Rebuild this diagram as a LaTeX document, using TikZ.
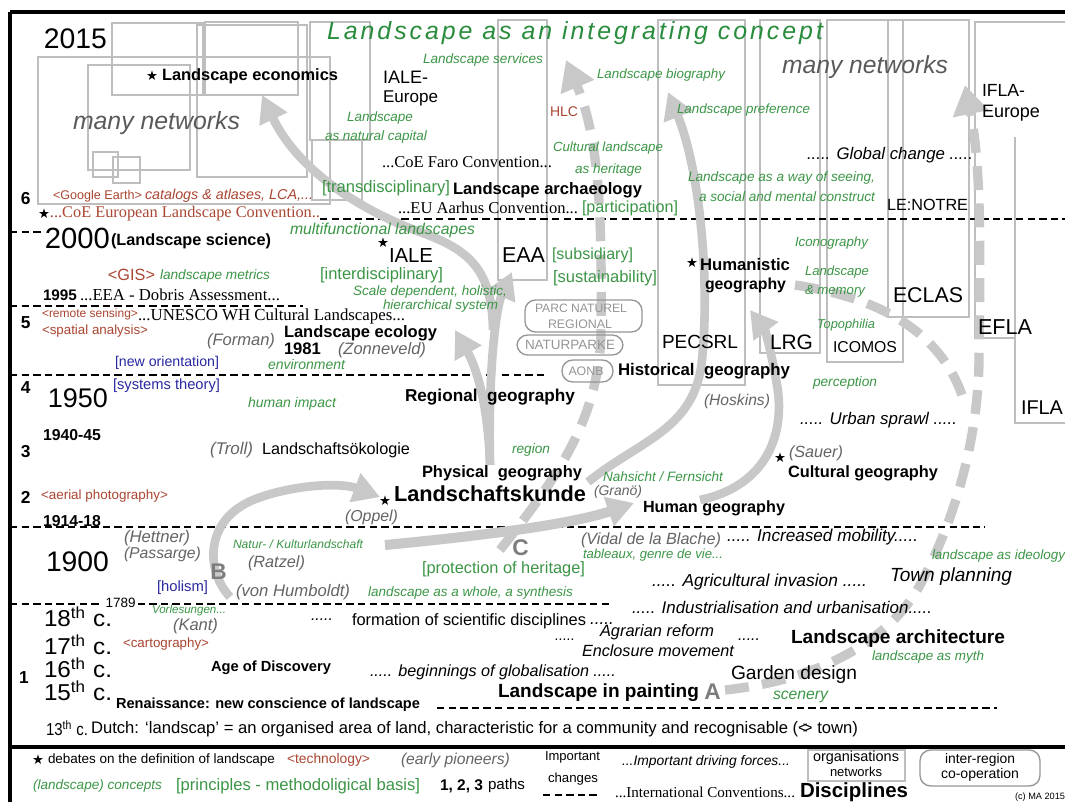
\documentclass[tikz,border=0pt]{standalone}
\usepackage{fontspec}
\usepackage{graphicx}
\setmainfont{Liberation Sans}
\newfontfamily\tnr{Liberation Serif}
\newfontfamily\djv{DejaVu Sans}
\newfontfamily\spaced[LetterSpace=12]{Liberation Sans}
\usetikzlibrary{arrows.meta}
\definecolor{cgreen}{RGB}{60,150,70}
\definecolor{tgreen}{RGB}{40,140,60}
\definecolor{cred}{RGB}{170,70,50}
\definecolor{cblue}{RGB}{40,40,160}
\definecolor{cgray}{RGB}{100,100,100}
\definecolor{netgray}{RGB}{90,90,90}
\definecolor{boxgray}{RGB}{190,190,190}
\definecolor{rboxgray}{RGB}{150,150,150}
\definecolor{arrgray}{RGB}{200,200,200}
\definecolor{letgray}{RGB}{125,125,125}
\newlength\pxu \setlength\pxu{0.75pt}
\newcommand\fw[2]{\resizebox{#1\pxu}{!}{#2}}
\newcommand\fwh[3]{\resizebox{#1\pxu}{#2\pxu}{#3}}
\newcommand\mylbl[5]{\node[#1] (#2) at (#3) {\fw{#4}{#5}};}
\tikzset{
 txt/.style={inner sep=0pt, outer sep=0pt, anchor=west, font=\fontsize{10}{12}\selectfont},
 txr/.style={txt},
 txb/.style={txt, font=\fontsize{10}{12}\selectfont\bfseries},
 txnum/.style={txt, font=\fontsize{13}{13}\selectfont\bfseries},
 txgi/.style={txt, text=cgreen, font=\fontsize{10}{12}\selectfont\itshape},
 txg/.style={txt, text=cgreen},
 txrd/.style={txt, text=cred},
 txrdi/.style={txt, text=cred, font=\fontsize{10}{12}\selectfont\itshape},
 txbl/.style={txt, text=cblue},
 txgp/.style={txt, text=cgray, font=\fontsize{10}{12}\selectfont\itshape},
 txnet/.style={txt, text=netgray, font=\fontsize{10}{12}\selectfont\itshape},
 txki/.style={txt, font=\fontsize{10}{12}\selectfont\itshape},
 txsf/.style={txt, font=\fontsize{10}{12}\selectfont\tnr},
 txrsf/.style={txsf, text=cred},
 txrb/.style={txt, text=rboxgray, anchor=center},
 txstar/.style={inner sep=0pt, font=\fontsize{10}{10}\selectfont\djv},
 txlet/.style={inner sep=0pt, anchor=west, text=letgray, font=\fontsize{17}{17}\selectfont\bfseries},
 orgbox/.style={draw=boxgray, line width=1.1pt},
 rbox/.style={draw=rboxgray, line width=1pt, rounded corners=8pt},
 dline/.style={line width=1.9pt, dash pattern=on 5.5pt off 3.2pt},
 frameline/.style={line width=2.4pt},
 garrow/.style={draw=arrgray, line width=6.5pt, -{Triangle[width=22pt,length=20pt]}},
 gdash/.style={draw=arrgray, line width=7pt, dash pattern=on 18pt off 10pt, -{Triangle[width=26pt,length=22pt]}},
 gdashnh/.style={draw=arrgray, line width=7pt, dash pattern=on 18pt off 10pt},
}
\begin{document}
\begin{tikzpicture}[x=0.75pt,y=-0.75pt]
\useasboundingbox (0,0) rectangle (1065,802);
\fill[white] (0,0) rectangle (1065,802);
% ---------- organisation / network boxes
\draw[orgbox] (38,57) rectangle (330,204);
\draw[orgbox] (88,65) rectangle (190,170);
\draw[orgbox] (112,23) rectangle (203,95);
\draw[orgbox] (197,25) rectangle (307,177);
\draw[orgbox] (205,22) rectangle (298,95);
\draw[orgbox] (93,152) rectangle (118,177);
\draw[orgbox] (113,157) rectangle (140,183);
\draw[orgbox] (310,22) rectangle (370,140);
\draw[orgbox] (312,140) rectangle (362,200);
\draw[orgbox] (498,20) rectangle (547,280);
\draw[orgbox] (658,20) rectangle (745,385);
\draw[orgbox] (760,20) rectangle (820,353);
\draw[orgbox] (827,20) rectangle (903,362);
\draw[orgbox] (888,20) rectangle (969,317);
\draw[orgbox] (1065,22) -- (975,22) -- (975,338) -- (1015,338);
\draw[orgbox] (1015,137) -- (1015,423) -- (1065,423);
% ---------- frame
\draw[frameline] (10,12) -- (1065,12);
\draw[frameline] (10,12) -- (10,802);
\draw[frameline] (10,747) -- (1065,747);
% ---------- period lines
\draw[dline] (10,232) -- (42,232);
\draw[dline] (320,219) -- (1065,219);
\draw[dline] (10,306) -- (303,306);
\draw[dline] (10,375) -- (492,375);
\draw[dline] (502,375) -- (545,375);
\draw[dline] (10,527) -- (985,527);
\draw[dline] (10,604) -- (610,604);
\draw[dline] (437,708) -- (997,708);
% ---------- paths (arrows)
\coordinate (bS) at (230,597);
\coordinate (bE) at (380,497);
\draw[garrow] (bS) .. controls (205,570) and (205,520) .. (253,500) .. controls (290,485) and (340,482) .. (bE);
\coordinate (nkS) at (385,545);
\coordinate (nkE) at (634,503);
\draw[garrow, line width=7.5pt] (nkS) .. controls (470,537) and (570,525) .. (nkE);
\coordinate (pgS) at (490,465);
\coordinate (eaaE) at (512,272);
\coordinate (lecE) at (455,330);
\coordinate (lecoE) at (262,95);
\draw[garrow] (pgS) .. controls (488,380) and (495,310) .. (eaaE);
\draw[garrow] (pgS) .. controls (488,400) and (475,365) .. (lecE);
\draw[garrow] (493,330) .. controls (492,270) and (470,250) .. (420,232) .. controls (370,214) and (300,175) .. (lecoE);
\coordinate (nhS) at (588,482);
\coordinate (bioE) at (668,92);
\draw[garrow] (nhS) .. controls (640,440) and (695,430) .. (702,360) .. controls (710,280) and (700,170) .. (bioE);
\coordinate (hgS) at (700,500);
\coordinate (lrgE) at (750,310);
\draw[garrow] (hgS) .. controls (770,485) and (785,430) .. (777,385) .. controls (772,355) and (765,330) .. (lrgE);
\coordinate (cS) at (500,550);
\coordinate (cE) at (566,60);
\draw[gdash] (cS) .. controls (555,480) and (600,420) .. (601,330) .. controls (602,220) and (600,140) .. (cE);
\coordinate (aS) at (725,690);
\coordinate (aE) at (965,85);
\draw[gdash] (aS) .. controls (820,680) and (890,640) .. (920,585) .. controls (955,520) and (978,440) .. (979,360) .. controls (980,260) and (982,170) .. (aE);
\draw[gdashnh] (795,285) .. controls (860,295) and (935,320) .. (962,395);
% ---------- rounded boxes
\draw[rbox] (525,300) rectangle (642,332);
\draw[rbox] (517,335) rectangle (623,355);
\draw[rbox] (562,360) rectangle (613,382);
\node[txrb] (parc1) at (581,308) {\fw{92}{PARC NATUREL}};
\node[txrb] (parc2) at (580,324) {\fw{64}{REGIONAL}};
\node[txrb] (natp) at (570,345) {\fw{90}{NATURPARKE}};
\node[txrb] (aonb) at (586,371) {\fw{35}{AONB}};
% ---------- texts: top
\mylbl{txr}{y2015}{44,39}{63}{2015}
\node[txt, text=tgreen] (title) at (327,33) {\fw{496}{\spaced\itshape Landscape as an integrating concept}};
\node[txstar] (s1) at (152,76) {★};
\mylbl{txb}{lecon}{162,76}{176}{Landscape economics}
\mylbl{txnet}{net1}{73,123}{167}{many networks}
\mylbl{txnet}{net2}{782,67}{166}{many networks}
\mylbl{txr}{ialeeu1}{383,77}{45}{IALE-}
\mylbl{txr}{ialeeu2}{383,98}{55}{Europe}
\mylbl{txgi}{lserv}{423,60}{120}{Landscape services}
\mylbl{txrd}{hlc}{550,112}{28}{HLC}
\mylbl{txgi}{lbio}{597,75}{128}{Landscape biography}
\mylbl{txgi}{lpref}{677,110}{133}{Landscape preference}
\mylbl{txgi}{lnat1}{347,118}{66}{Landscape}
\mylbl{txgi}{lnat2}{325,137}{102}{as natural capital}
\mylbl{txgi}{cher1}{553,148}{110}{Cultural landscape}
\mylbl{txgi}{cher2}{575,170}{67}{as heritage}
\mylbl{txsf}{faro}{382,162}{170}{...CoE Faro Convention...}
\mylbl{txg}{transd}{322,188}{128}{[transdisciplinary]}
\mylbl{txb}{larch}{453,190}{189}{Landscape archaeology}
\mylbl{txki}{glob}{807,155}{166}{..... Global change .....}
\mylbl{txgi}{way1}{688,178}{187}{Landscape as a way of seeing,}
\mylbl{txgi}{way2}{699,197}{176}{a social and mental construct}
\mylbl{txr}{lenotre}{887,205}{81}{LE:NOTRE}
\mylbl{txr}{ifeu1}{982,90}{43}{IFLA-}
\mylbl{txr}{ifeu2}{982,113}{58}{Europe}
\node[txnum] (p6) at (21,199) {6};
\mylbl{txrd}{gearth}{53,196}{89}{<Google Earth>}
\mylbl{txrdi}{catal}{145,196}{168}{catalogs \& atlases, LCA,...}
\node[txstar] (s2) at (44,214) {★};
\mylbl{txrsf}{elc}{50,214}{270}{...CoE European Landscape Convention..}
\mylbl{txsf}{aarhus}{398,208}{180}{...EU Aarhus Convention...}
\mylbl{txg}{partic}{582,208}{96}{[participation]}
% ---------- 2000 - 1950
\mylbl{txr}{y2000}{45,238}{65}{2000}
\mylbl{txb}{lsci}{111,241}{160}{(Landscape science)}
\mylbl{txgi}{multi}{290,230}{185}{multifunctional landscapes}
\node[txstar] (s3) at (383,243) {★};
\mylbl{txr}{iale}{389,256}{44}{IALE}
\mylbl{txr}{eaa}{502,255}{43}{EAA}
\mylbl{txg}{subs}{552,255}{81}{[subsidiary]}
\mylbl{txg}{sust}{553,278}{104}{[sustainability]}
\node[txstar] (s4) at (692,263) {★};
\mylbl{txb}{hum1}{700,265}{90}{Humanistic}
\mylbl{txb}{hum2}{705,285}{81}{geography}
\mylbl{txgi}{icon}{795,243}{73}{Iconography}
\mylbl{txgi}{mem1}{805,272}{64}{Landscape}
\mylbl{txgi}{mem2}{805,291}{60}{\& memory}
\mylbl{txr}{eclas}{893,295}{70}{ECLAS}
\mylbl{txrd}{gis}{108,275}{47}{<GIS>}
\mylbl{txgi}{lmet}{160,276}{110}{landscape metrics}
\mylbl{txg}{interd}{320,275}{123}{[interdisciplinary]}
\mylbl{txb}{y1995}{43,295}{34}{1995}
\mylbl{txsf}{dobris}{80,295}{200}{...EEA - Dobris Assessment...}
\mylbl{txgi}{scale1}{353,292}{154}{Scale dependent, holistic,}
\mylbl{txgi}{scale2}{383,306}{115}{hierarchical system}
\node[txnum] (p5) at (21,323) {5};
\mylbl{txrd}{rsens}{42,314}{96}{<remote sensing>}
\mylbl{txsf}{unesco}{138,316}{267}{...UNESCO WH Cultural Landscapes...}
\mylbl{txrd}{spat}{42,331}{106}{<spatial analysis>}
\mylbl{txgp}{forman}{207,341}{68}{(Forman)}
\mylbl{txb}{leco}{284,333}{153}{Landscape ecology}
\mylbl{txb}{y1981}{284,349}{37}{1981}
\mylbl{txgp}{zonn}{338,350}{88}{(Zonneveld)}
\mylbl{txbl}{neworient}{115,363}{104}{[new orientation]}
\mylbl{txgi}{envir}{268,364}{77}{environment}
\mylbl{txr}{pecsrl}{662,342}{76}{PECSRL}
\mylbl{txr}{lrg}{770,342}{43}{LRG}
\mylbl{txr}{icomos}{833,347}{64}{ICOMOS}
\mylbl{txgi}{topo}{817,325}{58}{Topophilia}
\mylbl{txr}{efla}{978,327}{54}{EFLA}
\mylbl{txb}{histg}{618,371}{172}{Historical\ \ geography}
\mylbl{txgi}{perc}{813,383}{64}{perception}
\node[txnum] (p4) at (21,388) {4};
\mylbl{txr}{y1950}{48,398}{60}{1950}
\mylbl{txbl}{systh}{113,386}{107}{[systems theory]}
\mylbl{txgi}{himp}{248,404}{88}{human impact}
\mylbl{txb}{regg}{405,397}{170}{Regional\ \ geography}
\mylbl{txgp}{hosk}{704,401}{66}{(Hoskins)}
\mylbl{txki}{urban}{800,420}{157}{..... Urban sprawl .....}
\mylbl{txr}{ifla}{1021,408}{42}{IFLA}
% ---------- 1940 - 1900
\mylbl{txb}{y1940}{43,435}{58}{1940-45}
\node[txnum] (p3) at (21,452) {3};
\mylbl{txgp}{troll}{210,450}{43}{(Troll)}
\mylbl{txr}{loek}{262,450}{148}{Landschaftsökologie}
\mylbl{txgi}{region}{512,450}{38}{region}
\node[txstar] (s5) at (780,458) {★};
\mylbl{txgp}{sauer}{789,453}{54}{(Sauer)}
\mylbl{txb}{cultg}{788,473}{150}{Cultural geography}
\mylbl{txb}{physg}{422,473}{160}{Physical\ \ geography}
\mylbl{txgi}{nahs}{603,477}{120}{Nahsicht / Fernsicht}
\node[txnum] (p2) at (21,497) {2};
\mylbl{txrd}{aerial}{41,496}{127}{<aerial photography>}
\node[txstar] (s6) at (385,501) {★};
\mylbl{txb}{lkunde}{394,494}{192}{Landschaftskunde}
\mylbl{txgp}{grano}{594,492}{48}{(Granö)}
\mylbl{txb}{humg}{643,508}{142}{Human geography}
\mylbl{txgp}{oppel}{345,517}{53}{(Oppel)}
\mylbl{txb}{y1914}{43,521}{58}{1914-18}
\mylbl{txgp}{hettner}{124,538}{66}{(Hettner)}
\mylbl{txgp}{passarge}{124,554}{77}{(Passarge)}
\mylbl{txgi}{natkul}{233,544}{130}{Natur- / Kulturlandschaft}
\node[txlet] (lC) at (512,548) {C};
\mylbl{txgp}{vidal}{581,540}{140}{(Vidal de la Blache)}
\mylbl{txgi}{tabl}{583,555}{140}{tableaux, genre de vie...}
\mylbl{txki}{mobil}{727,537}{191}{..... Increased mobility.....}
\mylbl{txgi}{ideol}{932,556}{133}{landscape as ideology}
\mylbl{txr}{y1900}{46,562}{63}{1900}
\node[txlet] (lB) at (210,572) {B};
\mylbl{txgp}{ratzel}{248,563}{57}{(Ratzel)}
\mylbl{txg}{protect}{422,569}{163}{[protection of heritage]}
\mylbl{txki}{agri}{652,582}{215}{..... Agricultural invasion .....}
\mylbl{txki}{town}{890,577}{122}{Town planning}
\mylbl{txbl}{holism}{157,588}{51}{[holism]}
\mylbl{txgp}{humb}{236,592}{114}{(von Humboldt)}
\mylbl{txgi}{whole}{368,593}{205}{landscape as a whole, a synthesis}
\node[txt, fill=white, inner xsep=2pt] (y1789) at (103,603) {\fw{30}{1789}};
\mylbl{txki}{indus}{632,607}{300}{..... Industrialisation and urbanisation.....}
% ---------- centuries
\mylbl{txgi}{vorl}{152,611}{74}{Vorlesungen...}
\mylbl{txgp}{kant}{173,626}{45}{(Kant)}
\node[txt] (c18) at (44,617) {\fwh{68}{20}{18\textsuperscript{th} c.}};
\node[txt] (c17) at (44,645) {\fwh{68}{20}{17\textsuperscript{th} c.}};
\node[txt] (c16) at (44,668) {\fwh{68}{20}{16\textsuperscript{th} c.}};
\node[txt] (c15) at (44,691) {\fwh{68}{20}{15\textsuperscript{th} c.}};
\mylbl{txki}{dots1}{311,620}{22}{.....}
\mylbl{txr}{formsci}{352,621}{234}{formation of scientific disciplines}
\mylbl{txki}{dots2}{590,624}{24}{.....}
\mylbl{txrd}{carto}{123,644}{86}{<cartography>}
\mylbl{txki}{dots3}{555,640}{20}{.....}
\mylbl{txki}{agrar}{600,632}{114}{Agrarian reform}
\mylbl{txki}{dots4}{738,640}{22}{.....}
\mylbl{txki}{enclos}{582,651}{152}{Enclosure movement}
\mylbl{txb}{larchit}{791,639}{214}{Landscape architecture}
\mylbl{txgi}{myth}{872,657}{112}{landscape as myth}
\node[txnum] (p1) at (19,678) {1};
\mylbl{txb}{aged}{211,668}{120}{Age of Discovery}
\mylbl{txki}{globz}{370,672}{246}{..... beginnings of globalisation .....}
\mylbl{txr}{garden}{731,675}{126}{Garden design}
\mylbl{txb}{renai}{116,705}{304}{Renaissance: new conscience of landscape}
\mylbl{txb}{lpaint}{498,693}{201}{Landscape in painting}
\node[txlet] (lA) at (704,692) {A};
\mylbl{txgi}{scen}{773,697}{55}{scenery}
\node[txt] (c13) at (46,728) {\fwh{42}{15}{13\textsuperscript{th} c.}};
\mylbl{txr}{dutch}{91,729}{767}{Dutch: ‘landscap’ = an organised area of land, characteristic for a community and recognisable (<\kern-0.3em> town)}
% ---------- legend
\node[txstar] (s7) at (38,760) {★};
\mylbl{txr}{debates}{48,760}{227}{debates on the definition of landscape}
\mylbl{txrd}{techn}{287,760}{83}{<technology>}
\mylbl{txgp}{early}{401,760}{109}{(early pioneers)}
\mylbl{txr}{imp1}{545,757}{55}{Important}
\mylbl{txr}{imp2}{548,779}{50}{changes}
\coordinate (legdA) at (543,795);
\coordinate (legdB) at (600,795);
\draw[dline] (legdA) -- (legdB);
\mylbl{txki}{drivf}{622,762}{168}{...Important driving forces...}
\draw[orgbox] (808,750) rectangle (905,781);
\node[txt, anchor=center] (org1) at (856,758) {\fw{86}{organisations}};
\node[txt, anchor=center] (org2) at (856,772) {\fw{52}{networks}};
\draw[rbox] (920,750) rectangle (1040,786);
\node[txt, anchor=center] (ir1) at (980,760) {\fw{70}{inter-region}};
\node[txt, anchor=center] (ir2) at (980,775) {\fw{78}{co-operation}};
\mylbl{txgi}{concepts}{33,786}{129}{(landscape) concepts}
\mylbl{txg}{princ}{176,786}{244}{[principles - methodoligical basis]}
\mylbl{txb}{paths1}{440,786}{43}{1, 2, 3}
\mylbl{txr}{paths2}{488,786}{37}{paths}
\mylbl{txsf}{intconv}{615,792}{180}{...International Conventions...}
\mylbl{txb}{discip}{800,792}{108}{Disciplines}
\mylbl{txr}{copyr}{1015,797}{50}{(c) MA 2015}
\end{tikzpicture}
\end{document}
